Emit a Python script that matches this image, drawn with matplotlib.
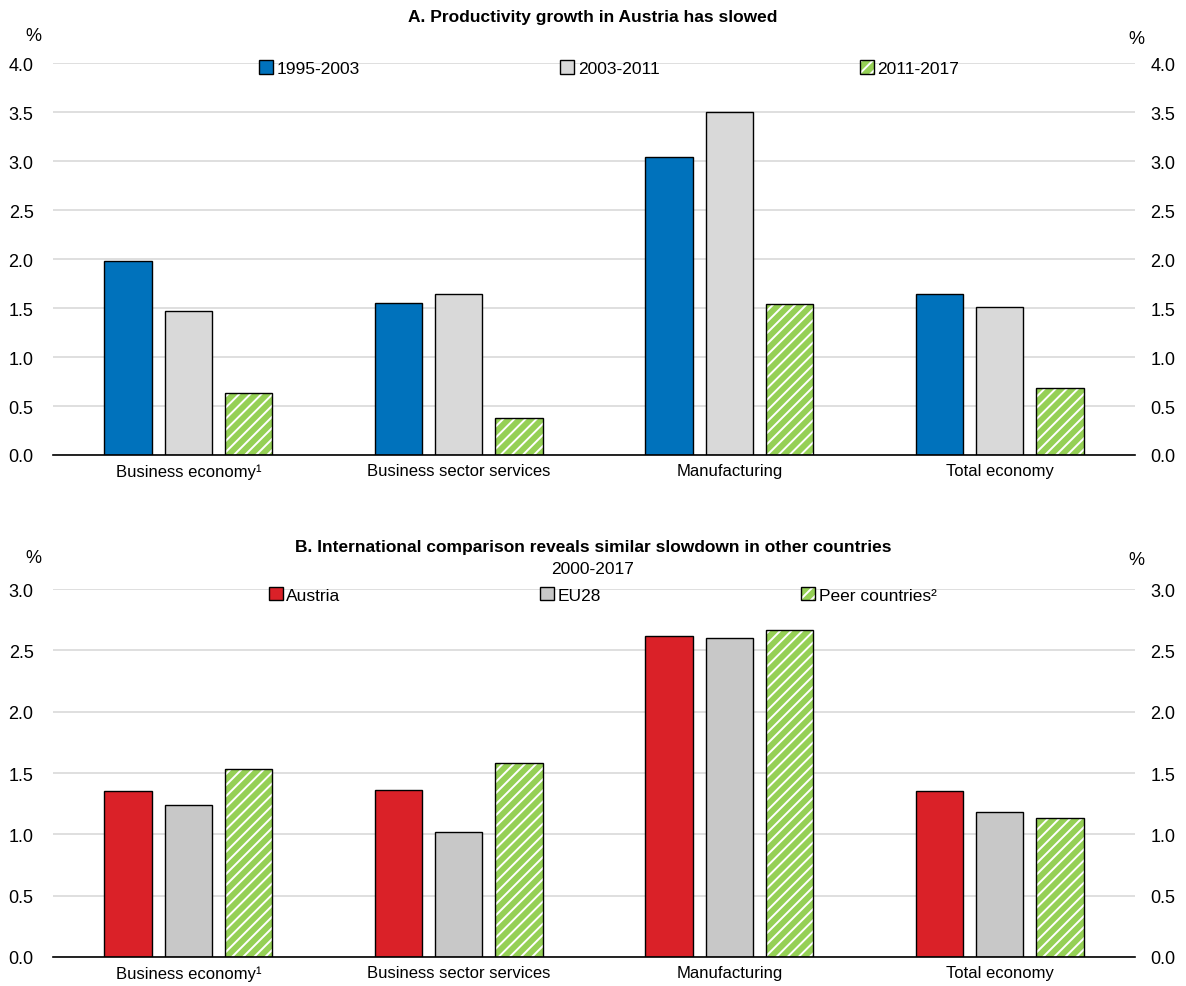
import matplotlib
matplotlib.use("Agg")
import matplotlib.pyplot as plt
import numpy as np
from matplotlib.patches import Patch

plt.rcParams['font.family'] = ['Liberation Sans Narrow', 'Liberation Sans', 'DejaVu Sans']
plt.rcParams['font.size'] = 12
plt.rcParams['hatch.linewidth'] = 1.4

# Data
categories = ['Business economy\u00b9', 'Business sector services', 'Manufacturing', 'Total economy']

a_labels = ['1995-2003', '2003-2011', '2011-2017']
a_1995_2003 = [1.98, 1.55, 3.04, 1.64]
a_2003_2011 = [1.47, 1.64, 3.50, 1.51]
a_2011_2017 = [0.63, 0.38, 1.54, 0.68]

b_labels = ['Austria', 'EU28', 'Peer countries\u00b2']
b_austria = [1.35, 1.36, 2.62, 1.35]
b_eu28 = [1.24, 1.02, 2.60, 1.18]
b_peer = [1.53, 1.58, 2.67, 1.13]

GREEN = '#95D055'
GRID = '#D9D9D9'


def draw_panel(ax, series, labels, colors, ymax, step, legend_box):
    x = np.arange(len(categories))
    width = 0.175
    offsets = [-0.223, 0, 0.223]
    handles = []
    for i, (vals, lab, col) in enumerate(zip(series, labels, colors)):
        if col == 'hatch':
            ax.bar(x + offsets[i], vals, width, color=GREEN, edgecolor='white',
                   hatch='///', linewidth=0, zorder=3)
            ax.bar(x + offsets[i], vals, width, facecolor='none',
                   edgecolor='black', linewidth=1.0, zorder=4)
            h = (Patch(facecolor=GREEN, edgecolor='white', hatch='///', linewidth=0),
                 Patch(facecolor='none', edgecolor='black', linewidth=1.0))
        else:
            ax.bar(x + offsets[i], vals, width, color=col, edgecolor='black',
                   linewidth=1.0, zorder=3)
            h = Patch(facecolor=col, edgecolor='black', linewidth=1.0)
        handles.append(h)

    ax.set_xlim(-0.5, len(categories) - 0.5)
    ax.set_ylim(0, ymax)
    ticks = np.arange(0, ymax + 0.001, step)
    tick_labels = [f'{t:.1f}' for t in ticks]
    ax.set_yticks(ticks)
    ax.set_yticklabels(tick_labels)
    ax.set_xticks(x)
    ax.set_xticklabels(categories)
    ax.tick_params(axis='x', length=0, pad=6)
    ax.tick_params(axis='y', length=0, pad=14, labelsize=13)
    ax.yaxis.grid(True, color=GRID, linewidth=1.2, zorder=0)
    ax.set_axisbelow(True)
    for s in ['top', 'left', 'right']:
        ax.spines[s].set_visible(False)
    ax.spines['bottom'].set_color('black')
    ax.spines['bottom'].set_linewidth(1.2)
    ax.spines['bottom'].set_zorder(5)

    # right-hand axis labels
    axr = ax.twinx()
    axr.set_ylim(0, ymax)
    axr.set_yticks(ticks)
    axr.set_yticklabels(tick_labels)
    axr.tick_params(axis='y', length=0, pad=11, labelsize=13)
    for s in axr.spines.values():
        s.set_visible(False)

    ax.legend(handles, labels, ncol=3, mode='expand', frameon=False,
              loc='upper left', bbox_to_anchor=legend_box,
              handlelength=0.8, handleheight=0.8, handletextpad=0.2,
              borderaxespad=0, fontsize=12.5)
    return ax


fig = plt.figure(figsize=(11.86, 9.87), dpi=100)
axA = fig.add_axes([0.0447, 0.538, 0.9123, 0.397])
axB = fig.add_axes([0.0447, 0.0294, 0.9123, 0.3727])

draw_panel(axA, [a_1995_2003, a_2003_2011, a_2011_2017], a_labels,
           ['#0072BC', '#D9D9D9', 'hatch'], 4.0, 0.5,
           (0.184, 0.975, 0.66, 0.05))
draw_panel(axB, [b_austria, b_eu28, b_peer], b_labels,
           ['#DA2128', '#C8C8C8', 'hatch'], 3.0, 0.5,
           (0.193, 0.975, 0.63, 0.05))

# percent unit labels
for y_left, y_right in [(0.963, 0.960), (0.434, 0.432)]:
    fig.text(33 / 1186, y_left, '%', ha='center', va='center', fontsize=13)
    fig.text(1136 / 1186, y_right, '%', ha='center', va='center', fontsize=13)

fig.text(0.5, 0.982, 'A. Productivity growth in Austria has slowed', ha='center', va='center',
         fontsize=12.5, fontweight='bold')
fig.text(0.5, 0.445, 'B. International comparison reveals similar slowdown in other countries',
         ha='center', va='center', fontsize=12.5, fontweight='bold')
fig.text(0.5, 0.423, '2000-2017', ha='center', va='center', fontsize=12.5)

fig.savefig('out.png', dpi=100)
